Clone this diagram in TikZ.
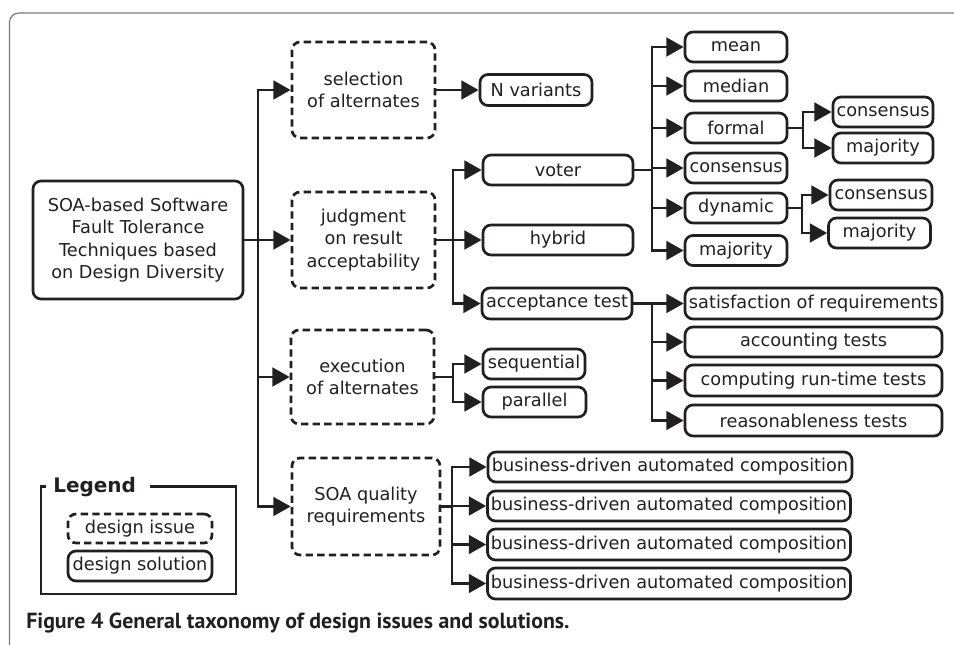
\documentclass[tikz,border=0pt]{standalone}
\usepackage{fontspec}
\setmainfont{DejaVu Sans}
\newfontfamily\capfont{PT Sans}
\usetikzlibrary{arrows.meta}
\definecolor{ink}{HTML}{231F20}
\definecolor{framegray}{HTML}{7A7A7A}
\begin{document}
\begin{tikzpicture}[x=0.75pt,y=-0.75pt,
  font=\fontsize{13.3}{16.8}\selectfont, text=ink,
  bx/.style 2 args={minimum width=#1*0.75pt, minimum height=#2*0.75pt, inner sep=0pt, align=center},
  issue/.style={draw=ink, line width=2pt, dash pattern=on 5.5pt off 3.2pt, rounded corners=6pt},
  sol/.style={draw=ink, line width=2pt, rounded corners=6pt},
  conn/.style={draw=ink, line width=2.2pt, -{Triangle[length=13pt 0,width=14pt 0]}},
  ln/.style={draw=ink, line width=2.2pt}]
\useasboundingbox (0,0) rectangle (954,645);
\begin{scope}
\clip (0,0) rectangle (954,645);
\draw[framegray, line width=0.9pt, rounded corners=7pt] (9.5,700) -- (9.5,13) -- (1000,13);
\end{scope}

% root
\node[sol, bx={210}{118}] (root) at (138,240) {SOA-based Software\\Fault Tolerance\\Techniques based\\on Design Diversity};

% issues
\node[issue, bx={143}{96}] (sel) at (363.5,90) {selection\\of alternates};
\node[issue, bx={143}{96}] (judg) at (363.5,240) {judgment\\on result\\acceptability};
\node[issue, bx={143}{94}] (exec) at (362.5,377) {execution\\of alternates};
\node[issue, bx={148}{97}] (soaq) at (366,506.5) {SOA quality\\requirements};

% solutions
\node[sol, bx={112}{31}] (nvar) at (536,90) {N variants};
\node[sol, bx={150}{30}] (voter) at (558,170) {voter};
\node[sol, bx={150}{30}] (hybrid) at (558,240) {hybrid};
\node[sol, bx={150}{31}] (acc) at (557,303.5) {acceptance test};

\node[sol, bx={102}{30}] (mean) at (736,47) {mean};
\node[sol, bx={102}{30}] (median) at (736,86) {median};
\node[sol, bx={102}{30}] (formal) at (736,128) {formal};
\node[sol, bx={102}{30}] (cons) at (736,168) {consensus};
\node[sol, bx={102}{30}] (dyn) at (736,208) {dynamic};
\node[sol, bx={102}{30}] (maj) at (736,250.5) {majority};

\node[sol, bx={100}{30}] (fcons) at (883,112) {consensus};
\node[sol, bx={100}{30}] (fmaj) at (883,148) {majority};
\node[sol, bx={102}{30}] (dcons) at (881,195) {consensus};
\node[sol, bx={102}{30}] (dmaj) at (879.5,233) {majority};

\node[sol, bx={257}{31}] (sat) at (813.5,303.5) {satisfaction of requirements};
\node[sol, bx={257}{30}] (acct) at (813.5,342) {accounting tests};
\node[sol, bx={257}{31}] (comp) at (813.5,380.5) {computing run-time tests};
\node[sol, bx={257}{31}] (reas) at (813.5,420.5) {reasonableness tests};

\node[sol, bx={102}{30}] (seq) at (534,364) {sequential};
\node[sol, bx={103}{30}] (par) at (534.5,402) {parallel};

\node[sol, bx={364}{30}] (b1) at (670,467) {business-driven automated composition};
\node[sol, bx={363}{30}] (b2) at (669,506) {business-driven automated composition};
\node[sol, bx={363}{31}] (b3) at (669,544.5) {business-driven automated composition};
\node[sol, bx={363}{31}] (b4) at (669,583.5) {business-driven automated composition};

% branch coordinates
\coordinate (t) at (258,0);
\coordinate (j) at (453,0);
\coordinate (v) at (652,0);
\coordinate (f) at (803,0);
\coordinate (d) at (802,0);
\coordinate (a) at (652,0);
\coordinate (e) at (453,0);
\coordinate (q) at (452,0);

% connectors
\draw[conn] (root.east) -- (root.east -| t) |- (sel.west);
\draw[conn] (root.east) -- (judg.west);
\draw[conn] (root.east) -- (root.east -| t) |- (exec.west);
\draw[conn] (root.east) -- (root.east -| t) |- (soaq.west);

\draw[conn] (sel.east) -- (nvar.west);

\draw[conn] (judg.east) -- (judg.east -| j) |- (voter.west);
\draw[conn] (judg.east) -- (hybrid.west);
\draw[conn] (judg.east) -- (judg.east -| j) |- (acc.west);

\foreach \n in {mean,median,formal,cons,dyn,maj}
  \draw[conn] (voter.east) -- (voter.east -| v) |- (\n.west);

\draw[conn] (formal.east) -- (formal.east -| f) |- (fcons.west);
\draw[conn] (formal.east) -- (formal.east -| f) |- (fmaj.west);
\draw[conn] (dyn.east) -- (dyn.east -| d) |- (dcons.west);
\draw[conn] (dyn.east) -- (dyn.east -| d) |- (dmaj.west);

\foreach \n in {sat,acct,comp,reas}
  \draw[conn] (acc.east) -- (acc.east -| a) |- (\n.west);

\draw[conn] (exec.east) -- (exec.east -| e) |- (seq.west);
\draw[conn] (exec.east) -- (exec.east -| e) |- (par.west);

\foreach \n in {b1,b2,b3,b4}
  \draw[conn] (soaq.east) -- (soaq.east -| q) |- (\n.west);

% legend
\node[anchor=base west, inner sep=0pt, font=\bfseries\fontsize{15}{18}\selectfont] (legt) at (53,493) {Legend};
\draw[ln] (150,486.5) -- (236,486.5) -- (236,594) -- (41,594) -- (41,486.5) -- (46,486.5);
\node[issue, bx={144}{29}] (lgi) at (140,528.5) {design issue};
\node[sol, bx={144}{30}] (lgs) at (140,566) {design solution};

% caption
\node[anchor=base west, inner sep=0pt, font=\capfont\bfseries\fontsize{16.4}{19}\selectfont] (cap) at (26,628) {Figure 4 General taxonomy of design issues and solutions.};
\end{tikzpicture}
\end{document}
